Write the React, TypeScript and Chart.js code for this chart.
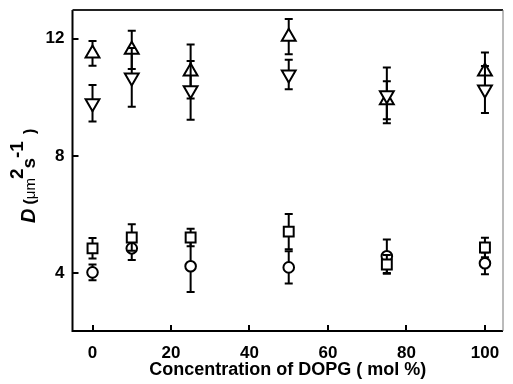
import React, { useEffect, useRef } from "react";
import { Chart, registerables } from "chart.js";

Chart.register(...registerables);

const concentrations = [0, 10, 25, 50, 75, 100];
const upValues = [11.5, 11.62, 10.88, 12.07, 9.9, 10.88];
const upErrors = [0.42, 0.65, 0.92, 0.6, 0.65, 0.65];
const downValues = [9.8, 10.68, 10.24, 10.78, 10.07, 10.27];
const downErrors = [0.62, 1.0, 1.0, 0.5, 0.95, 0.8];
const squareValues = [4.85, 5.22, 5.22, 5.42, 4.3, 4.88];
const squareErrors = [0.35, 0.45, 0.3, 0.6, 0.32, 0.33];
const circleValues = [4.03, 4.85, 4.24, 4.2, 4.58, 4.34];
const circleErrors = [0.27, 0.4, 0.88, 0.55, 0.57, 0.37];

const xTicks = [0, 20, 40, 60, 80, 100];
const yTicks = [4, 8, 12];
const xTitle = "Concentration of DOPG ( mol %)";

const FONT = "'Liberation Sans', Arial, sans-serif";

const errorBarPlugin = {
  id: "errorBars",
  beforeDatasetDraw(chart: any, args: any) {
    const ds = chart.data.datasets[args.index];
    const errs: number[] = ds.errors;
    if (!errs) return;
    const { ctx, scales } = chart;
    const xs = scales.x;
    const ys = scales.y;
    ctx.save();
    ctx.strokeStyle = "#000";
    ctx.lineWidth = 2;
    ds.data.forEach((p: any, i: number) => {
      const px = xs.getPixelForValue(p.x);
      const top = ys.getPixelForValue(p.y + errs[i]);
      const bot = ys.getPixelForValue(p.y - errs[i]);
      ctx.beginPath();
      ctx.moveTo(px, top);
      ctx.lineTo(px, bot);
      ctx.moveTo(px - 4, top);
      ctx.lineTo(px + 4, top);
      ctx.moveTo(px - 4, bot);
      ctx.lineTo(px + 4, bot);
      ctx.stroke();
    });
    ctx.restore();
  },
};

const framePlugin = {
  id: "frame",
  afterDraw(chart: any) {
    const { ctx, chartArea: a, scales } = chart;
    ctx.save();
    ctx.strokeStyle = "#000";
    ctx.lineWidth = 2;
    // left and bottom axes
    ctx.beginPath();
    ctx.moveTo(a.left, a.top);
    ctx.lineTo(a.left, a.bottom);
    ctx.lineTo(a.right, a.bottom);
    ctx.stroke();
    // top
    ctx.strokeStyle = "#222";
    ctx.beginPath();
    ctx.moveTo(a.left, a.top);
    ctx.lineTo(a.right, a.top);
    ctx.stroke();
    // right
    ctx.strokeStyle = "#777";
    ctx.lineWidth = 1;
    ctx.beginPath();
    ctx.moveTo(a.right, a.top);
    ctx.lineTo(a.right, a.bottom);
    ctx.stroke();
    // inward ticks
    ctx.strokeStyle = "#000";
    ctx.lineWidth = 2;
    ctx.beginPath();
    xTicks.forEach((v) => {
      const px = Math.round(scales.x.getPixelForValue(v));
      ctx.moveTo(px, a.bottom);
      ctx.lineTo(px, a.bottom - 6);
    });
    yTicks.forEach((v) => {
      const py = Math.round(scales.y.getPixelForValue(v));
      ctx.moveTo(a.left, py);
      ctx.lineTo(a.left + 6, py);
    });
    ctx.stroke();

    // y-axis title with italic D and superscripts
    ctx.fillStyle = "#000";
    ctx.translate(35, 223);
    ctx.rotate(-Math.PI / 2);
    ctx.textBaseline = "alphabetic";
    ctx.textAlign = "left";
    let x = 0;
    const part = (t: string, font: string, dy: number, gap = 0) => {
      ctx.font = font;
      x += gap;
      ctx.fillText(t, x, dy);
      x += ctx.measureText(t).width;
    };
    part("D", `italic bold 20px ${FONT}`, 0);
    part("(", `bold 16px ${FONT}`, 0, 4);
    part("\u03bcm", `15px ${FONT}`, 0);
    part("2", `bold 19px ${FONT}`, -12, -1);
    part("s", `bold 19px ${FONT}`, 0);
    part("-1", `bold 19px ${FONT}`, -12);
    part(")", `bold 16px ${FONT}`, 0, 7);
    ctx.restore();
  },
};

function toPoints(vals: number[]) {
  return concentrations.map((c, i) => ({ x: c, y: vals[i] }));
}

export default function App() {
  const ref = useRef<HTMLCanvasElement | null>(null);
  useEffect(() => {
    if (!ref.current) return;
    const common = {
      showLine: false,
      borderColor: "#000",
      backgroundColor: "#fff",
      borderWidth: 2,
      pointBorderWidth: 2,
    };
    const chart = new Chart(ref.current, {
      type: "scatter",
      data: {
        datasets: [
          {
            ...common,
            label: "up",
            data: toPoints(upValues),
            errors: upErrors,
            pointStyle: "triangle",
            pointRadius: 8,
            order: 4,
          } as any,
          {
            ...common,
            label: "down",
            data: toPoints(downValues),
            errors: downErrors,
            pointStyle: "triangle",
            rotation: 180,
            pointRotation: 180,
            pointRadius: 8,
            order: 3,
          } as any,
          {
            ...common,
            label: "circle",
            data: toPoints(circleValues),
            errors: circleErrors,
            pointStyle: "circle",
            pointRadius: 5.3,
            order: 2,
          } as any,
          {
            ...common,
            label: "square",
            data: toPoints(squareValues),
            errors: squareErrors,
            pointStyle: "rect",
            pointRadius: 7,
            order: 1,
          } as any,
        ],
      },
      options: {
        responsive: false,
        animation: false,
        layout: { padding: { top: 8.5, right: 1.5, left: 0, bottom: 0 } },
        plugins: { legend: { display: false }, tooltip: { enabled: false } },
        scales: {
          x: {
            type: "linear",
            min: -5.1,
            max: 104.6,
            grid: { display: false, drawTicks: false },
            border: { display: false },
            afterBuildTicks: (s: any) => {
              s.ticks = xTicks.map((v) => ({ value: v }));
            },
            afterFit: (s: any) => {
              s.height = 53;
              s.paddingLeft = 0;
              s.paddingRight = 0;
            },
            ticks: {
              padding: 12,
              color: "#000",
              font: { family: FONT, size: 17, weight: "bold" },
            },
            title: {
              display: true,
              text: xTitle,
              color: "#000",
              padding: { top: 0, bottom: 3 },
              font: { family: FONT, size: 18, weight: "bold" },
            },
          },
          y: {
            type: "linear",
            min: 2.03,
            max: 12.98,
            grid: { display: false, drawTicks: false },
            border: { display: false },
            afterBuildTicks: (s: any) => {
              s.ticks = yTicks.map((v) => ({ value: v }));
            },
            afterFit: (s: any) => {
              s.width = 72.5;
              s.paddingTop = 0;
              s.paddingBottom = 0;
            },
            ticks: {
              padding: 8,
              color: "#000",
              font: { family: FONT, size: 17, weight: "bold" },
            },
          },
        },
      } as any,
      plugins: [errorBarPlugin, framePlugin],
    });
    return () => chart.destroy();
  }, []);
  return (
    <div style={{ position: "fixed", left: 0, top: 0, width: 513, height: 384, background: "#fff" }}>
      <canvas ref={ref} width={513} height={384} style={{ width: 513, height: 384 }} />
    </div>
  );
}
